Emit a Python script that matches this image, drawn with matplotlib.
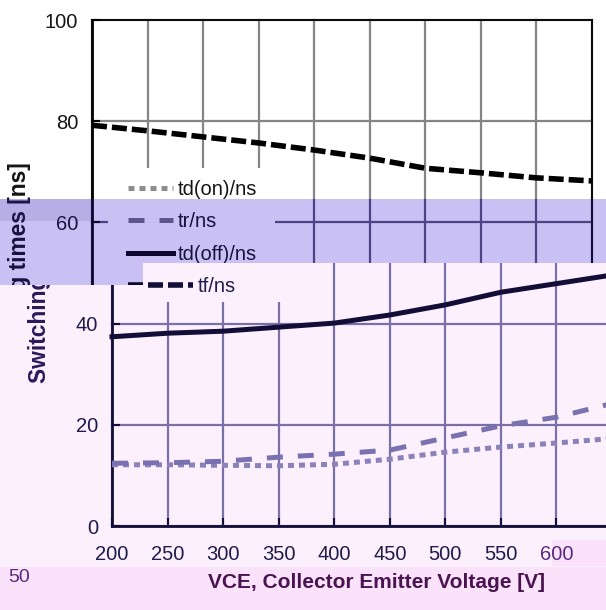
import matplotlib.pyplot as plt
import matplotlib.patches as patches
from matplotlib.text import Text
from matplotlib.transforms import Bbox, TransformedBbox

plt.rcParams['font.family'] = ['Liberation Sans', 'DejaVu Sans']

# values (VCE in V, switching times in ns)
vce = [200, 250, 300, 350, 400, 450, 500, 550, 600, 650]
td_on = [12.1, 12.1, 12.0, 11.9, 12.2, 13.2, 14.6, 15.6, 16.4, 17.3]
t_r = [12.4, 12.5, 12.8, 13.6, 14.2, 15.0, 17.4, 19.8, 21.5, 24.2]
td_off = [37.4, 38.1, 38.5, 39.3, 40.1, 41.7, 43.7, 46.2, 47.9, 49.6]
t_f = [79.2, 78.1, 76.9, 75.7, 74.3, 72.7, 70.7, 69.8, 68.8, 68.2]
series_labels = ['td(on)/ns', 'tr/ns', 'td(off)/ns', 'tf/ns']
xticks = [200, 250, 300, 350, 400, 450, 500, 550, 600, 650]
yticks = [0, 20, 40, 60, 80, 100]

W, H = 606, 610
fig = plt.figure(figsize=(W / 100, H / 100), dpi=100)


def fbox(x0, y0, x1, y1):
    # pixel box measured from the top left -> figure fraction bbox
    return Bbox.from_extents(x0 / W, 1 - y1 / H, x1 / W, 1 - y0 / H)


def add_rect(x0, y0, x1, y1, z, **kw):
    b = fbox(x0, y0, x1, y1)
    r = patches.Rectangle((b.x0, b.y0), b.width, b.height,
                          transform=fig.transFigure, zorder=z, lw=0, **kw)
    fig.add_artist(r)
    return r


white = dict(bg='white', grid='#858585', ink='black', text='#151515',
             on='#8c8c8c', r='#7a7a7a', lab='#151515', xlab='#151515')
purple = dict(bg='#c9c1f3', grid='#4c4285', ink='#0c0830', text='#17113f',
              on='#6f68a0', r='#5c5590', lab='#17113f', xlab='#17113f')
pink = dict(bg='#fdf0fd', grid='#7a70a8', ink='#120e38', text='#1e1c4a',
            on='#8a82b8', r='#7a72b0', lab='#2a1a5a', xlab='#4a1450')


def draw_copy(shift, box, st):
    add_rect(*box, z=-10, color=st['bg'])
    ax = fig.add_axes([(92 + shift) / W, 1 - 526 / H, 500 / W, 506 / H])
    ax.set_facecolor('none')
    ax.set_xlim(200, 650)
    ax.set_ylim(0, 100)
    ax.set_xticks(xticks)
    ax.set_yticks(yticks)
    ax.set_axisbelow(True)
    ax.grid(True, color=st['grid'], lw=1.6)

    ax.plot(vce, td_on, color=st['on'], lw=3.6, ls=(0, (1.2, 1.0)), label=series_labels[0], zorder=3)
    ax.plot(vce, t_r, color=st['r'], lw=3.6, ls=(0, (3.2, 3.0)), label=series_labels[1], zorder=3)
    ax.plot(vce, td_off, color=st['ink'], lw=3.6, label=series_labels[2], zorder=3)
    ax.plot(vce, t_f, color=st['ink'], lw=4, ls=(0, (2.7, 0.9)), label=series_labels[3], zorder=3)

    # blank area behind the legend hides the grid
    ax.add_patch(patches.Rectangle((0.032, 0.4427), 0.334, 0.265, transform=ax.transAxes,
                                   color=st['bg'], lw=0, zorder=1))
    leg = ax.legend(loc='upper left', bbox_to_anchor=(0.072, 0.684), frameon=False,
                    fontsize=14.5, handlelength=2.25, handletextpad=0.2,
                    labelspacing=0.67, borderpad=0, borderaxespad=0)
    for t in leg.get_texts():
        t.set_color(st['text'])

    for s in ['left', 'bottom']:
        ax.spines[s].set_linewidth(2)
    for s in ['top', 'right']:
        ax.spines[s].set_linewidth(1.3)
    for s in ax.spines.values():
        s.set_color(st['ink'])

    ax.tick_params(direction='in', length=6, width=1.5, color=st['ink'],
                   labelcolor=st['text'], labelsize=14.5)
    ax.tick_params(axis='x', pad=14)
    ax.tick_params(axis='y', pad=10)
    if shift:
        ax.xaxis.get_major_ticks()[8].label1.set_color('#5a2a80')

    ax.set_ylabel('Switching times [ns]', fontsize=16.4, fontweight='bold',
                  color=st['lab'], va='center')
    ax.yaxis.set_label_coords((20 - 92) / 500, 0.5)
    ax.set_xlabel('VCE, Collector Emitter Voltage [V]', fontsize=15, fontweight='bold',
                  color=st['xlab'], va='center')
    ax.xaxis.set_label_coords((356 - 92) / 500, 1 - (583 - 20) / 506)
    return ax, fbox(*box), TransformedBbox(fbox(*box), fig.transFigure)


copies = [
    (0, (0, 0, 606, 199), white),
    (0, (0, 199, 606, 263), purple),
    (0, (0, 263, 143, 285), purple),
    (20, (143, 263, 606, 610), pink),
    (20, (0, 285, 143, 610), pink),
]
drawn = [draw_copy(*c) for c in copies]

# strips of the lower band
add_rect(0, 567, 606, 610, z=-5, color='#fbe2fb')
add_rect(552, 540, 606, 566, z=-5, color='#fae2fa')
add_rect(0, 199, 92, 221, z=20, color='#3c2c90', alpha=0.12)
fig.text(8 / W, 1 - 578 / H, '50', fontsize=14, color='#5a2a7a', va='center', ha='left')

fig.canvas.draw()
renderer = fig.canvas.get_renderer()
for ax, fb, clip in drawn:
    for a in ax.findobj():
        if a is ax:
            continue
        a.set_clip_on(True)
        a.set_clip_box(clip)
        # texts that fall (almost) wholly outside this copy's band are not shown
        if isinstance(a, Text) and a.get_visible() and a.get_text():
            ext = a.get_window_extent(renderer).transformed(fig.transFigure.inverted())
            part = Bbox.intersection(ext, fb)
            if part is None or part.width * W < 2 or part.height * H < 2:
                a.set_visible(False)

# the last tick label of the shifted band runs past the right edge of the picture
for ax, fb, clip in drawn[3:]:
    lab = ax.xaxis.get_major_ticks()[9].label1
    lab.set_clip_box(TransformedBbox(fbox(143, 263, 594, 610), fig.transFigure))

fig.savefig('out.png', dpi=100)
